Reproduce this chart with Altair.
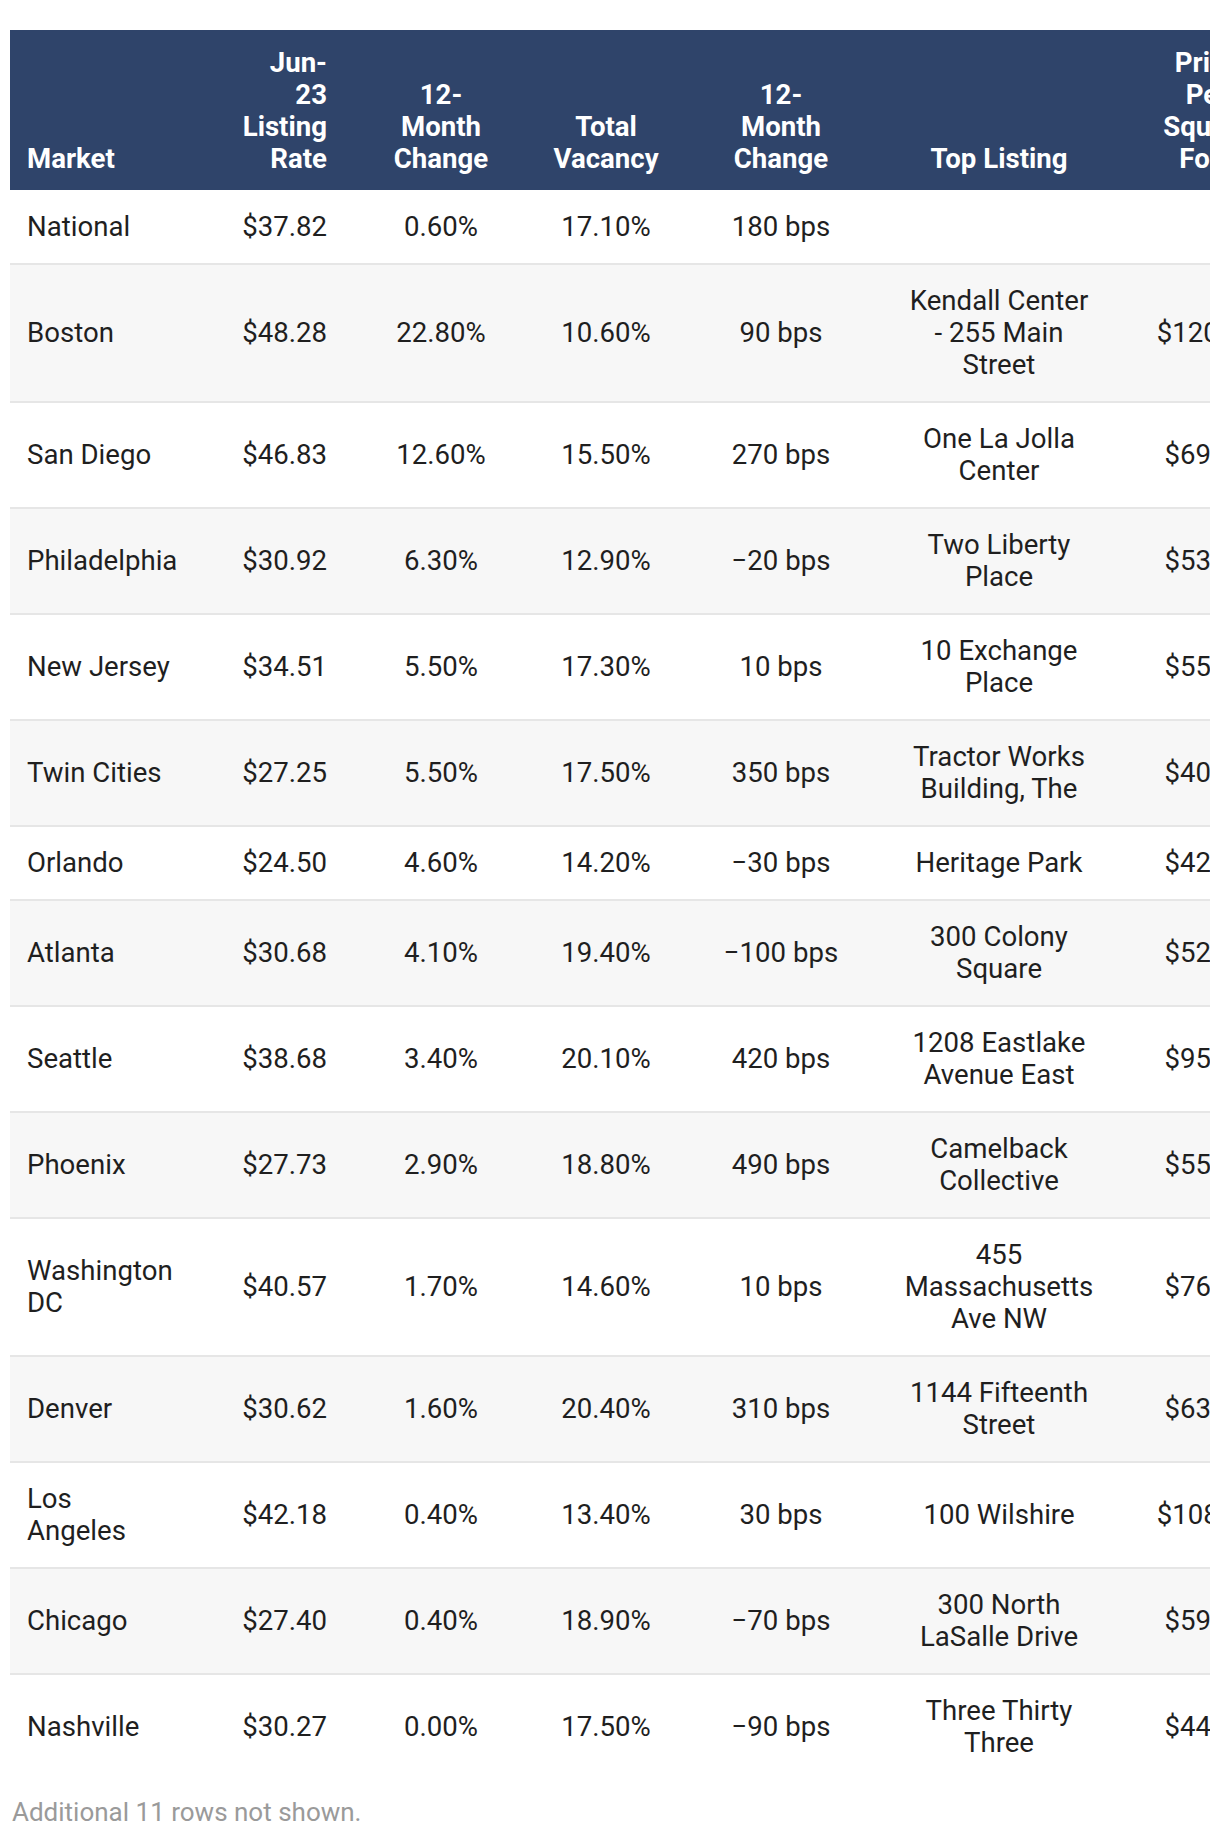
import altair as alt
import pandas as pd

# ---------------- data ----------------
markets = ["National", "Boston", "San Diego", "Philadelphia", "New Jersey",
           "Twin Cities", "Orlando", "Atlanta", "Seattle", "Phoenix",
           "Washington\nDC", "Denver", "Los\nAngeles", "Chicago", "Nashville"]
listing_rate = [37.82, 48.28, 46.83, 30.92, 34.51, 27.25, 24.50, 30.68,
                38.68, 27.73, 40.57, 30.62, 42.18, 27.40, 30.27]
change_12m = [0.60, 22.80, 12.60, 6.30, 5.50, 5.50, 4.60, 4.10, 3.40, 2.90,
              1.70, 1.60, 0.40, 0.40, 0.00]
total_vacancy = [17.10, 10.60, 15.50, 12.90, 17.30, 17.50, 14.20, 19.40,
                 20.10, 18.80, 14.60, 20.40, 13.40, 18.90, 17.50]
vacancy_change_bps = [180, 90, 270, -20, 10, 350, -30, -100, 420, 490, 10,
                      310, 30, -70, -90]
top_listing = ["", "Kendall Center\n- 255 Main\nStreet", "One La Jolla\nCenter",
               "Two Liberty\nPlace", "10 Exchange\nPlace",
               "Tractor Works\nBuilding, The", "Heritage Park",
               "300 Colony\nSquare", "1208 Eastlake\nAvenue East",
               "Camelback\nCollective", "455\nMassachusetts\nAve NW",
               "1144 Fifteenth\nStreet", "100 Wilshire",
               "300 North\nLaSalle Drive", "Three Thirty\nThree"]
price_psf = [None, 120.00, 69.00, 53.00, 55.00, 40.00, 42.00, 52.00, 95.00,
             55.00, 76.00, 63.00, 108.00, 59.00, 44.00]
headers = ["Market", "Jun-\n23\nListing\nRate", "12-\nMonth\nChange",
           "Total\nVacancy", "12-\nMonth\nChange", "Top Listing",
           "Price\nPer\nSquare\nFoot"]
footnote = "Additional 11 rows not shown."

# ---------------- layout / style ----------------
W, H = 1200, 1800
LH, PAD, HEADER_H = 32, 21, 160
FONT, FS, FS_NOTE = "Roboto", 27.6, 26
HEADER_BG, STRIPE, RULE = "#2f446a", "#f7f7f7", "#e6e6e6"
TEXT, NOTE = "#1f1f1f", "#9a9a9a"
col_x = [17, 317, 431, 596, 771, 989, 1197]
col_align = ["left", "right", "center", "center", "center", "center", "center"]


def fmt_bps(v):
    return ("\u2212" if v < 0 else "") + f"{abs(v)} bps"


def nlines(s):
    return s.count("\n") + 1


columns = [
    markets,
    [f"${v:.2f}" for v in listing_rate],
    [f"{v:.2f}%" for v in change_12m],
    [f"{v:.2f}%" for v in total_vacancy],
    [fmt_bps(v) for v in vacancy_change_bps],
    top_listing,
    ["" if v is None else f"${v:.2f}" for v in price_psf],
]

# rows
rows = []
y = HEADER_H
for i in range(len(markets)):
    n = max(nlines(c[i]) for c in columns)
    h = 2 * PAD + n * LH
    rows.append(dict(i=i, y0=y, y1=y + h, yc=y + h / 2,
                     bg=STRIPE if i % 2 == 1 else "#ffffff"))
    y += h
rows_df = pd.DataFrame(rows)
rows_df["x0"] = 0
rows_df["x1"] = W

body = []
for ci, col in enumerate(columns):
    for r in rows:
        t = col[r["i"]]
        body.append(dict(x=col_x[ci], y=r["yc"] + 1 - (nlines(t) - 1) * LH / 2,
                         text=t, al=col_align[ci]))
body_df = pd.DataFrame(body)

HEAD_BOTTOM = HEADER_H - 16
head_df = pd.DataFrame(dict(
    x=col_x, y=[HEAD_BOTTOM - (nlines(t) - 1) * LH for t in headers],
    text=headers, al=col_align))

xs = alt.Scale(domain=[0, W], nice=False, zero=False)
ys = alt.Scale(domain=[0, H], nice=False, zero=False, reverse=True)
X = lambda f: alt.X(f, scale=xs, axis=None)
Y = lambda f: alt.Y(f, scale=ys, axis=None)

band = alt.Chart(pd.DataFrame(dict(x0=[0], x1=[W], y0=[0], y1=[HEADER_H]))).mark_rect(
    color=HEADER_BG).encode(x=X("x0:Q"), x2="x1:Q", y=Y("y0:Q"), y2="y1:Q")

stripes = alt.Chart(rows_df).mark_rect().encode(
    x=X("x0:Q"), x2="x1:Q", y=Y("y0:Q"), y2="y1:Q",
    fill=alt.Fill("bg:N", scale=None))

rules = alt.Chart(rows_df[rows_df["i"] > 0]).mark_rule(
    color=RULE, strokeWidth=2).encode(x=X("x0:Q"), x2="x1:Q", y=Y("y0:Q"))

layers = [stripes, band, rules]
for al in ["left", "right", "center"]:
    layers.append(
        alt.Chart(body_df[body_df["al"] == al]).mark_text(
            align=al, baseline="middle", font=FONT, fontSize=FS, color=TEXT,
            lineBreak="\n", lineHeight=LH, clip=True
        ).encode(x=X("x:Q"), y=Y("y:Q"), text="text:N"))
    layers.append(
        alt.Chart(head_df[head_df["al"] == al]).mark_text(
            align=al, baseline="bottom", font=FONT, fontSize=FS,
            fontWeight="bold", color="#ffffff", lineBreak="\n",
            lineHeight=LH, clip=True
        ).encode(x=X("x:Q"), y=Y("y:Q"), text="text:N"))

note = alt.Chart(pd.DataFrame(dict(x=[2], y=[1783], text=[footnote]))).mark_text(
    align="left", baseline="middle", font=FONT, fontSize=FS_NOTE, color=NOTE
).encode(x=X("x:Q"), y=Y("y:Q"), text="text:N")
layers.append(note)

chart = alt.layer(*layers).properties(
    width=W, height=H,
    autosize=alt.AutoSizeParams(type="none"),
    padding={"left": 2, "top": 22, "right": 0, "bottom": 0},
).configure_view(strokeWidth=0)

chart.save("out.html", embed_options={"renderer": "svg", "actions": False})
